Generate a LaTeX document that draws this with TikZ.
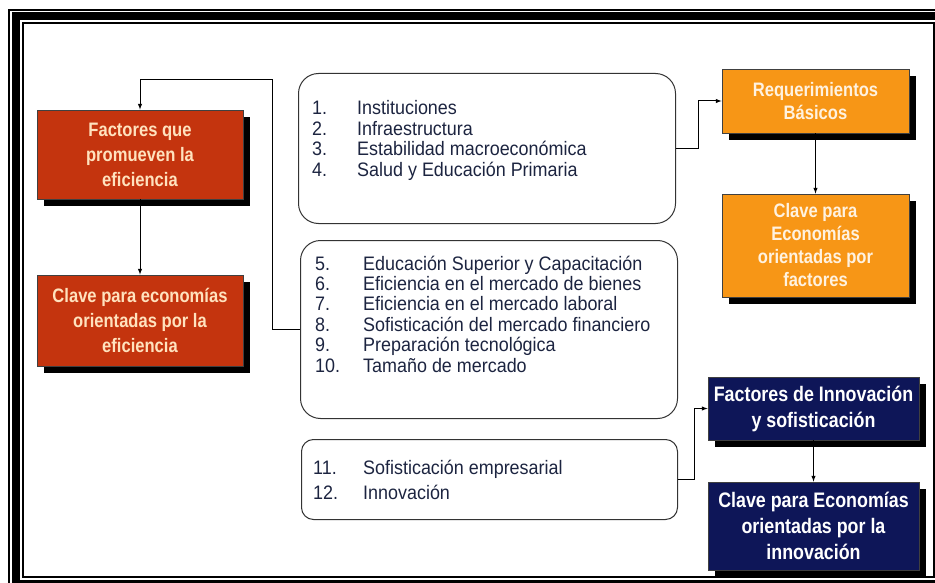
\documentclass[tikz,border=0pt]{standalone}
\usepackage{fontspec}
\setmainfont{Liberation Sans}
\newfontfamily\boxfont{Liberation Sans}[FakeStretch=0.85]
\newfontfamily\listfont{Liberation Sans}[FakeStretch=0.92]
\usetikzlibrary{shadows,arrows}

\definecolor{redfill}{RGB}{196,52,14}
\definecolor{redtext}{RGB}{255,226,190}
\definecolor{orgfill}{RGB}{247,150,22}
\definecolor{orgtext}{RGB}{255,242,224}
\definecolor{blufill}{RGB}{14,22,88}
\definecolor{listtxt}{RGB}{28,36,64}

\begin{document}
\begin{tikzpicture}[
x=1pt, y=-1pt,
box/.style={
  draw=black!75,
  line width=0.8pt,
  align=center,
  inner sep=0pt,
  general shadow={fill=black, shadow xshift=7pt, shadow yshift=-7pt}
  },
redbox/.style={
  box,
  fill=redfill,
  text=redtext,
  minimum width=206pt,
  font=\boxfont\bfseries\fontsize{19.5}{25}\selectfont
  },
orgbox/.style={
  box,
  fill=orgfill,
  text=orgtext,
  minimum width=187pt,
  font=\boxfont\bfseries\fontsize{19.5}{23}\selectfont
  },
blubox/.style={
  box,
  fill=blufill,
  text=white,
  minimum width=211pt,
  font=\boxfont\bfseries\fontsize{21}{26}\selectfont
  },
listbox/.style={
  draw=black!80,
  line width=1pt,
  rounded corners=20pt,
  anchor=north west,
  inner sep=0pt
  },
item/.style={
  anchor=base west,
  inner sep=0pt,
  text=listtxt,
  font=\listfont\fontsize{19.5}{20}\selectfont
  },
link/.style={
  ->,
  line width=1pt
  },
>=latex
]

\useasboundingbox (0,0) rectangle (935,583);

% marco
\draw[line width=1.5pt] (9,10) rectangle (960,600);
\draw[line width=8pt] (16,16.5) rectangle (942,584);
\draw[line width=2pt] (23,23) rectangle (934,577);

% cajas de listas
\node[listbox, minimum width=377pt, minimum height=150pt] (lst1) at (298,73) {};
\node[listbox, minimum width=377pt, minimum height=178pt] (lst2) at (300,240) {};
\node[listbox, rounded corners=12pt, minimum width=376pt, minimum height=80pt] (lst3) at (301,439) {};

\foreach \txt [count=\i] in {Instituciones, Infraestructura,
    Estabilidad macroeconómica, Salud y Educación Primaria}
{
  \node[item] (num-\i) at (312,{115+(\i-1)*20.5}) {\i.};
  \node[item] (itm-\i) at (357,{115+(\i-1)*20.5}) {\txt};
}
\foreach \txt [count=\i from 5] in {Educación Superior y Capacitación,
    Eficiencia en el mercado de bienes, Eficiencia en el mercado laboral,
    Sofisticación del mercado financiero, Preparación tecnológica,
    Tamaño de mercado}
{
  \node[item] (num-\i) at (315,{270+(\i-5)*20.4}) {\i.};
  \node[item] (itm-\i) at (363,{270+(\i-5)*20.4}) {\txt};
}
\foreach \txt [count=\i from 11] in {Sofisticación empresarial, Innovación}
{
  \node[item] (num-\i) at (313,{474+(\i-11)*25}) {\i.};
  \node[item] (itm-\i) at (363,{474+(\i-11)*25}) {\txt};
}

% cajas de color
\node[redbox, minimum height=89pt] (red1) at (140,154.5)
  {Factores que\\promueven la\\eficiencia};
\node[redbox, minimum height=91pt] (red2) at (140,320.5)
  {Clave para economías\\orientadas por la\\eficiencia};
\node[orgbox, minimum height=64pt] (org1) at (815.5,101)
  {Requerimientos\\Básicos};
\node[orgbox, minimum height=103pt] (org2) at (815.5,245.5)
  {Clave para\\Economías\\orientadas por\\factores};
\node[blubox, minimum height=63pt] (blu1) at (813.5,408.5)
  {Factores de Innovación\\y sofisticación};
\node[blubox, minimum height=88pt] (blu2) at (813.5,526)
  {Clave para Economías\\orientadas por la\\innovación};

% conectores
\coordinate (bend) at (272,80);
\draw[link] (lst2.west) -| (bend) -| (red1.north);
\draw[link] (red1.south) -- (red2.north);
\draw[link] (lst1.east) -- ++(22,0) |- (org1.west);
\draw[link] (org1.south) -- (org2.north);
\draw[link] (lst3.east) -- ++(16,0) |- (blu1.west);
\draw[link] (blu1.south) -- (blu2.north);
\end{tikzpicture}
\end{document}
